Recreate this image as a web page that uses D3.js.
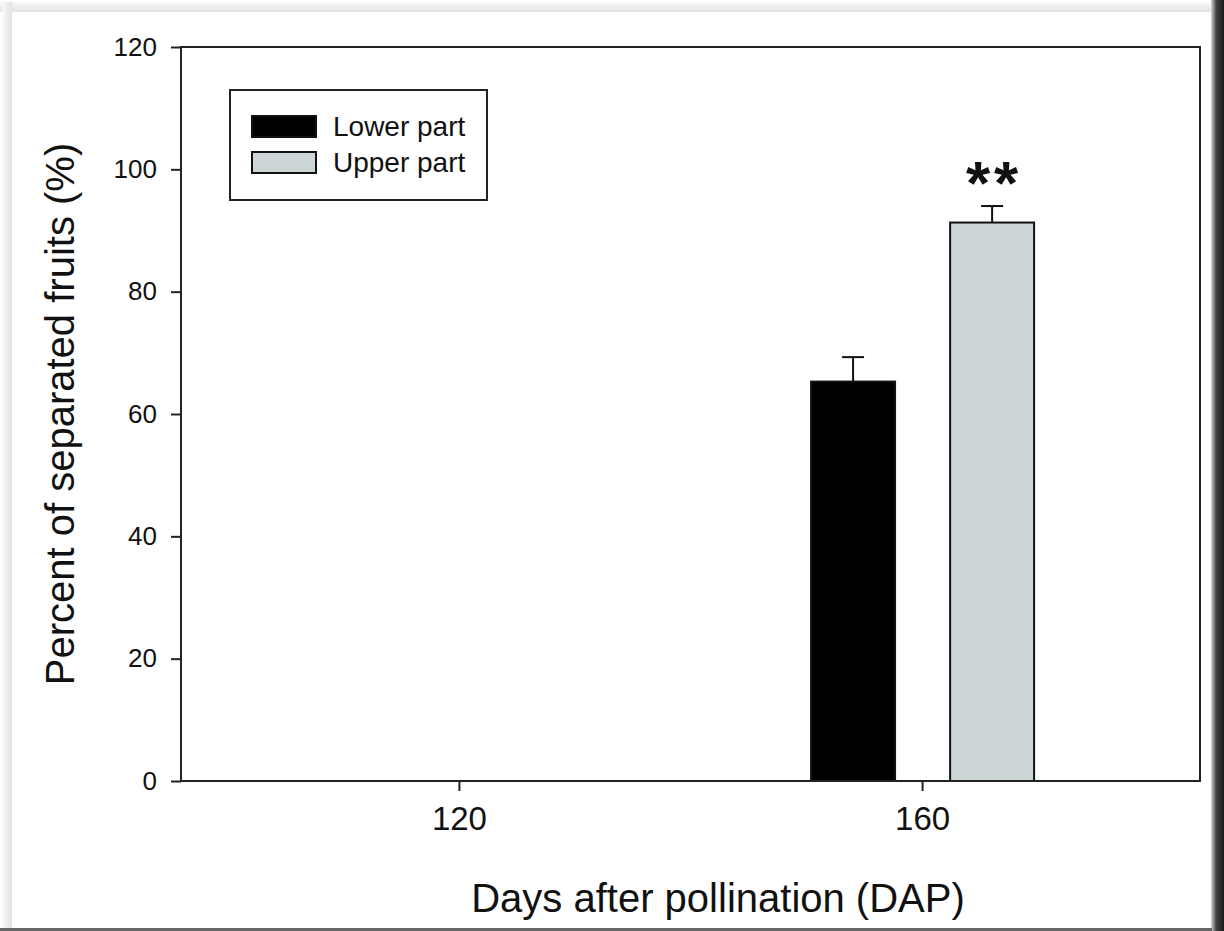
<!DOCTYPE html>
<html lang="en">
<head>
  <meta charset="UTF-8">
  <title>Separated fruits</title>
  <style>
    body { margin: 0; background: #fff; }
    svg text { font-family: "Liberation Sans", Arial, sans-serif; fill: #111; }
  </style>
</head>
<body>
  <svg id="chart" width="1224" height="931"></svg>
  <script src="https://cdn.jsdelivr.net/npm/d3@7/dist/d3.min.js"></script>
  <script>
    // data
    const days = ['120', '160']
    const groups = ['Lower part', 'Upper part']
    const lowerMean = [0, 65.3]
    const lowerErr = [0, 4.0]
    const upperMean = [0, 91.3]
    const upperErr = [0, 2.7]
    const signif = ['', '**']
    const yTicks = [0, 20, 40, 60, 80, 100, 120]

    const colors = { 'Lower part': '#000000', 'Upper part': '#cdd6d6' }

    const svg = d3.select('#chart')
    const m = { left: 181, right: 1200, top: 47, bottom: 781 }

    // frame around the picture (scan edges)
    const defs = svg.append('defs')
    const gr = defs.append('linearGradient').attr('id', 'shadowR')
    gr.append('stop').attr('offset', '0%').attr('stop-color', '#d8d8d8')
    gr.append('stop').attr('offset', '40%').attr('stop-color', '#444')
    gr.append('stop').attr('offset', '100%').attr('stop-color', '#1a1a1a')
    const gt = defs.append('linearGradient').attr('id', 'bandT').attr('x1', 0).attr('x2', 0).attr('y1', 0).attr('y2', 1)
    gt.append('stop').attr('offset', '0%').attr('stop-color', '#fafafa')
    gt.append('stop').attr('offset', '100%').attr('stop-color', '#e2e2e2')
    const gl = defs.append('linearGradient').attr('id', 'bandL')
    gl.append('stop').attr('offset', '0%').attr('stop-color', '#fafafa')
    gl.append('stop').attr('offset', '100%').attr('stop-color', '#e2e2e2')

    svg.append('rect').attr('x', 0).attr('y', 2).attr('width', 1224).attr('height', 10).attr('fill', 'url(#bandT)')
    svg.append('rect').attr('x', 2).attr('y', 2).attr('width', 10).attr('height', 929).attr('fill', 'url(#bandL)')
    svg.append('rect').attr('x', 1211).attr('y', 0).attr('width', 13).attr('height', 931).attr('fill', 'url(#shadowR)')
    svg.append('rect').attr('x', 0).attr('y', 928).attr('width', 1212).attr('height', 3).attr('fill', '#666')

    const x = d3.scalePoint().domain(days).range([m.left, m.right]).padding(0.6)
    const xSub = d3.scaleBand().domain(groups).range([-111, 112]).paddingInner(0.396)
    const y = d3.scaleLinear().domain([0, 120]).range([m.bottom, m.top])

    const rows = []
    days.forEach((d, i) => {
      rows.push({ day: d, group: groups[0], v: lowerMean[i], e: lowerErr[i] })
      rows.push({ day: d, group: groups[1], v: upperMean[i], e: upperErr[i] })
    })
    const shown = rows.filter(r => r.v > 0)

    // error bars (upper side only)
    const eb = svg.append('g').attr('stroke', '#111').attr('stroke-width', 2)
    shown.forEach(r => {
      const cx = x(r.day) + xSub(r.group) + xSub.bandwidth() / 2
      eb.append('line').attr('x1', cx).attr('x2', cx).attr('y1', y(r.v)).attr('y2', y(r.v + r.e))
      eb.append('line').attr('x1', cx - 11).attr('x2', cx + 11).attr('y1', y(r.v + r.e)).attr('y2', y(r.v + r.e))
    })

    svg.append('g').selectAll('rect').data(shown).enter().append('rect')
      .attr('x', r => x(r.day) + xSub(r.group))
      .attr('y', r => y(r.v))
      .attr('width', xSub.bandwidth())
      .attr('height', r => y(0) - y(r.v))
      .attr('fill', r => colors[r.group])
      .attr('stroke', '#111')
      .attr('stroke-width', 2)

    // significance marks
    days.forEach((d, i) => {
      if (!signif[i]) return
      const cx = x(d) + xSub(groups[1]) + xSub.bandwidth() / 2
      svg.append('text')
        .attr('x', cx + 2).attr('y', y(upperMean[i] + upperErr[i]) - 2)
        .attr('text-anchor', 'middle')
        .style('font-size', '62px').style('font-weight', 'bold').style('letter-spacing', '4px')
        .text(signif[i])
    })

    // plot frame
    svg.append('rect')
      .attr('x', m.left).attr('y', m.top)
      .attr('width', m.right - m.left).attr('height', m.bottom - m.top)
      .attr('fill', 'none').attr('stroke', '#222').attr('stroke-width', 2)

    const yAxis = svg.append('g').attr('transform', `translate(${m.left},0)`)
      .call(d3.axisLeft(y).tickValues(yTicks).tickSize(10).tickPadding(14))
    const xAxis = svg.append('g').attr('transform', `translate(0,${m.bottom})`)
      .call(d3.axisBottom(x).tickSize(10).tickPadding(16))
    ;[yAxis, xAxis].forEach(a => {
      a.select('.domain').remove()
      a.selectAll('line').attr('stroke', '#222').attr('stroke-width', 2)
      a.selectAll('text').style('font-family', '"Liberation Sans", Arial, sans-serif').attr('fill', '#111')
    })
    yAxis.selectAll('text').style('font-size', '26px')
    xAxis.selectAll('text').style('font-size', '33px')

    // axis titles
    svg.append('text')
      .attr('transform', `translate(74,${(m.top + m.bottom) / 2}) rotate(-90)`)
      .attr('text-anchor', 'middle')
      .style('font-size', '40px')
      .text('Percent of separated fruits (%)')
    svg.append('text')
      .attr('x', 718).attr('y', 912)
      .attr('text-anchor', 'middle')
      .style('font-size', '40px')
      .text('Days after pollination (DAP)')

    // legend
    const lg = svg.append('g')
    lg.append('rect').attr('x', 230).attr('y', 90).attr('width', 257).attr('height', 110)
      .attr('fill', '#fff').attr('stroke', '#222').attr('stroke-width', 2)
    groups.forEach((g, i) => {
      const yy = 116 + i * 36
      lg.append('rect').attr('x', 252).attr('y', yy).attr('width', 64).attr('height', 21)
        .attr('fill', colors[g]).attr('stroke', '#111').attr('stroke-width', 2)
      lg.append('text').attr('x', 333).attr('y', yy + 20)
        .style('font-size', '28px').text(g)
    })
  </script>
</body>
</html>
